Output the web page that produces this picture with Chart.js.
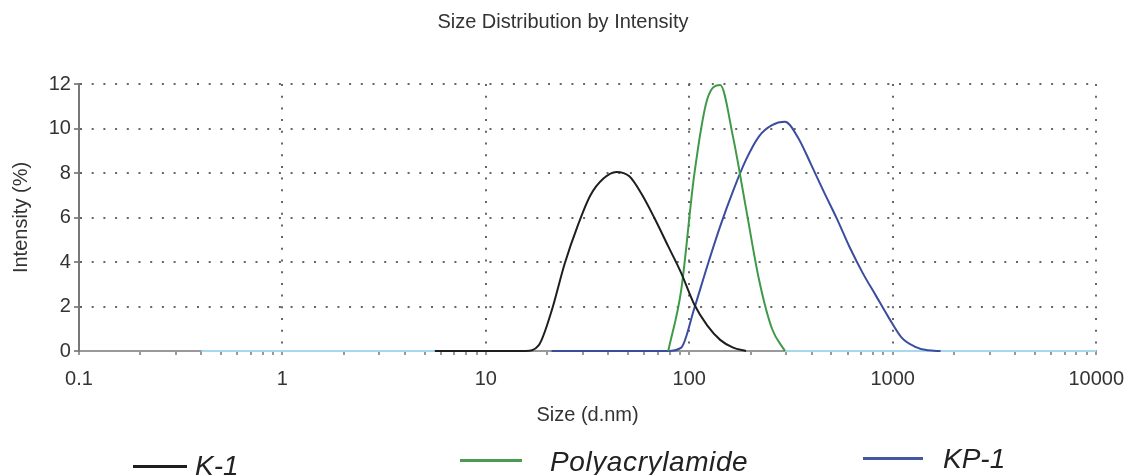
<!DOCTYPE html>
<html lang="en">
<head>
<meta charset="UTF-8">
<title>Size Distribution by Intensity</title>
<script src="https://cdn.jsdelivr.net/npm/chart.js"></script>
<style>
  body { margin: 0; background: #fff; }
  .wrap { position: relative; width: 1126px; height: 475px; overflow: hidden; }
  .key { position: absolute; font-family: "Liberation Sans", Arial, sans-serif; font-style: italic;
         font-size: 28px; line-height: 28px; color: #222; white-space: nowrap; }
  .swatch { position: absolute; height: 3px; }
</style>
</head>
<body>
<div class="wrap">
  <canvas id="chart" width="1126" height="475"></canvas>

  <!-- legend, spread out like the original -->
  <div class="swatch" style="left:133px;top:465px;width:54px;background:#1e1e1e"></div>
  <div class="key" style="left:195px;top:452px">K-1</div>
  <div class="swatch" style="left:460px;top:459px;width:62px;background:#4a9a52"></div>
  <div class="key" style="left:550px;top:448px;letter-spacing:0.6px">Polyacrylamide</div>
  <div class="swatch" style="left:863px;top:457px;width:60px;background:#4556a3"></div>
  <div class="key" style="left:943px;top:445px">KP-1</div>
</div>

<script>
// size bins (d.nm)
const sizes = [0.4, 0.4632, 0.5365, 0.6213, 0.7195, 0.8332, 0.9649, 1.117, 1.294, 1.499,
  1.736, 2.01, 2.328, 2.696, 3.122, 3.615, 4.187, 4.849, 5.615, 6.503,
  7.531, 8.721, 10.1, 11.7, 13.54, 15.69, 18.17, 21.04, 24.36, 28.21,
  32.67, 37.84, 43.82, 50.75, 58.77, 68.06, 78.82, 91.28, 105.7, 122.4,
  141.8, 164.2, 190.1, 220.2, 255.0, 295.3, 342.0, 396.1, 458.7, 531.2,
  615.1, 712.4, 825.0, 955.4, 1106, 1281, 1484, 1718, 1990, 2305,
  2669, 3091, 3580, 4145, 4801, 5560, 6439, 7456, 8635, 10000];

// intensity (%) - each series starts at a bin index
const k1Start = 18;
const k1Values = [0, 0, 0, 0, 0, 0, 0, 0, 0.25, 1.8,
  3.9, 5.6, 7.0, 7.75, 8.05, 7.85, 7.0, 5.9, 4.7, 3.5,
  2.1, 1.15, 0.5, 0.15, 0];

const paStart = 36;
const paValues = [0, 2.75, 7.9, 11.3, 11.95, 9.6, 6.4, 3.2, 1.0, 0];

const kp1Start = 27;
const kp1Values = [0, 0, 0, 0, 0, 0, 0, 0, 0, 0,
  0.15, 1.9, 3.8, 5.6, 7.2, 8.6, 9.65, 10.15, 10.3, 9.6,
  8.4, 7.15, 5.95, 4.65, 3.5, 2.5, 1.5, 0.6, 0.2, 0.03, 0];

// light blue zero record underneath
const baseValues = [0, 0, 0, 0, 0, 0, 0, 0, 0, 0,
  0, 0, 0, 0, 0, 0, 0, 0, 0, null,
  null, null, null, null, null, null, null, null, null, null,
  null, null, null, null, null, null, null, null, null, null,
  null, null, null, null, null, 0, 0, 0, 0, 0,
  0, 0, 0, 0, 0, 0, 0, 0, 0, 0,
  0, 0, 0, 0, 0, 0, 0, 0, 0, 0];

const yTicks = [0, 2, 4, 6, 8, 10, 12];

function points(vals, start) {
  return vals.map((v, i) => ({ x: sizes[start + i], y: v }));
}

function mantissa(v) {
  const e = Math.floor(Math.log10(v) + 1e-9);
  return v / Math.pow(10, e);
}
const isDecade = v => Math.abs(mantissa(v) - 1) < 1e-6;

const fontFam = "'Liberation Sans', Arial, sans-serif";
const textCol = '#333';

function line(label, data, color) {
  return {
    label, data,
    borderColor: color,
    borderWidth: 2,
    pointRadius: 0,
    fill: false,
    cubicInterpolationMode: 'monotone',
    clip: 4
  };
}

new Chart(document.getElementById('chart'), {
  type: 'line',
  data: {
    datasets: [
      line('K-1', points(k1Values, k1Start), '#1e1e1e'),
      line('Polyacrylamide', points(paValues, paStart), '#3f9a48'),
      line('KP-1', points(kp1Values, kp1Start), '#3b4d9e'),
      line('base', points(baseValues, 0), '#a9d8ee')
    ]
  },
  options: {
    responsive: false,
    animation: false,
    events: [],
    layout: { padding: { left: 0, right: 0, top: 0, bottom: 48 } },
    plugins: {
      legend: { display: false },
      tooltip: { enabled: false },
      title: {
        display: true,
        text: 'Size Distribution by Intensity',
        color: textCol,
        font: { family: fontFam, size: 20, weight: 'normal' },
        padding: { top: 10.5, bottom: 49.5 }
      }
    },
    scales: {
      x: {
        type: 'logarithmic',
        min: 0.1,
        max: 10000,
        title: {
          display: true, text: 'Size (d.nm)', color: textCol,
          font: { family: fontFam, size: 20 },
          padding: { top: 0, bottom: 0 }
        },
        ticks: {
          autoSkip: false, maxRotation: 0, padding: 2, color: textCol,
          font: { family: fontFam, size: 20, lineHeight: 2.2 },
          callback: v => isDecade(v) ? String(+v.toPrecision(6)) : ''
        },
        grid: {
          color: c => (isDecade(c.tick.value) && c.tick.value > 0.1) ? '#666' : 'rgba(0,0,0,0)',
          lineWidth: 2,
          tickLength: 4,
          tickWidth: 1.5,
          tickColor: c => Math.abs(mantissa(c.tick.value) - 1.5) < 1e-6 ? 'rgba(0,0,0,0)' : '#777'
        },
        border: { display: true, color: '#999', width: 2, dash: [2, 9.7] }
      },
      y: {
        min: 0,
        max: 12,
        title: {
          display: true, text: 'Intensity (%)', color: textCol,
          font: { family: fontFam, size: 20 },
          padding: { top: 9.7, bottom: 12 }
        },
        ticks: {
          stepSize: 1, padding: 3, color: textCol,
          font: { family: fontFam, size: 20 },
          callback: v => yTicks.includes(v) ? String(v) : ''
        },
        grid: {
          color: c => (yTicks.includes(c.tick.value) && c.tick.value > 0) ? '#666' : 'rgba(0,0,0,0)',
          lineWidth: 2,
          tickLength: 5,
          tickWidth: 1.5,
          tickColor: '#666'
        },
        border: { display: true, color: '#777', width: 2, dash: [2, 9.7] }
      }
    }
  }
});
</script>
</body>
</html>
